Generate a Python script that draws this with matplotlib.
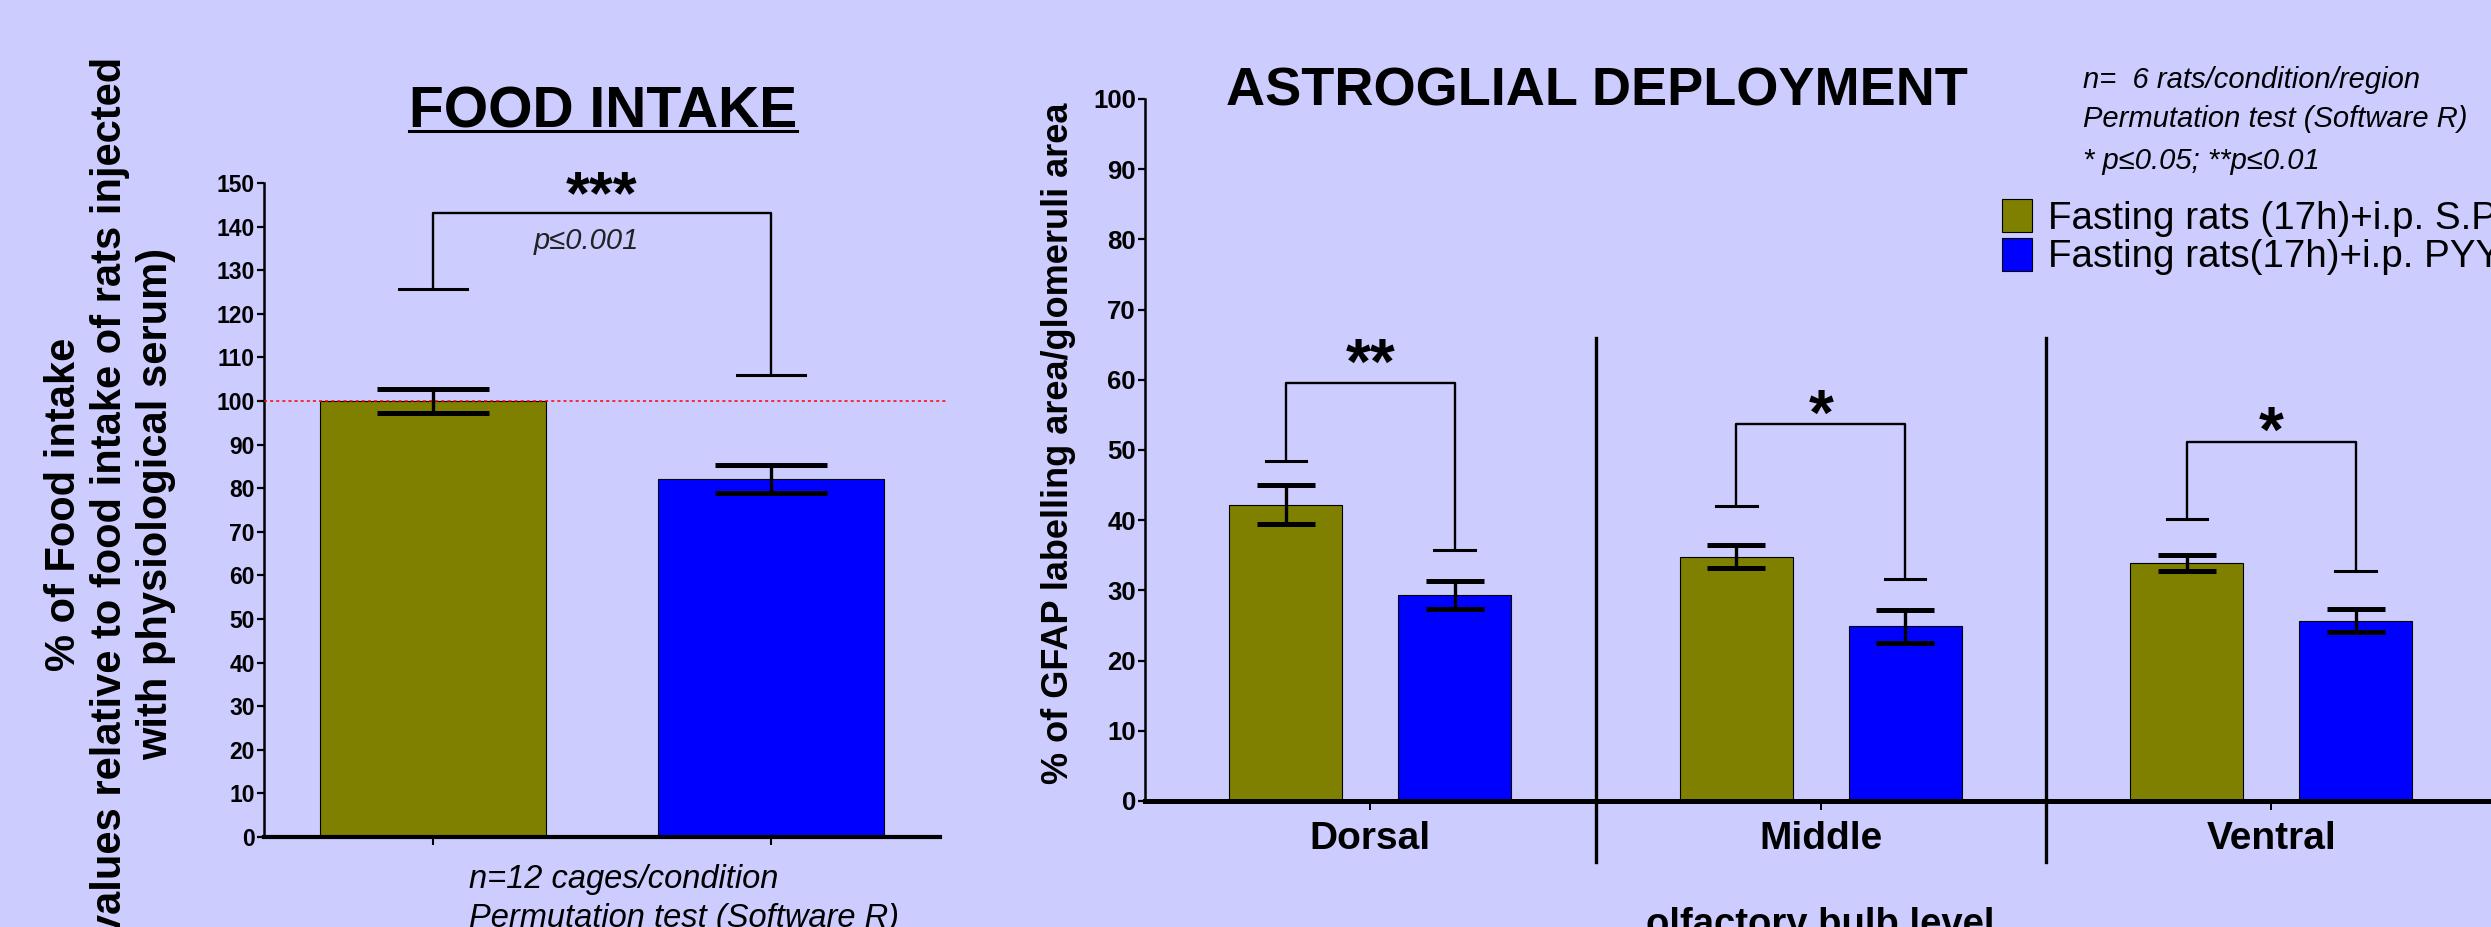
import matplotlib
matplotlib.use('Agg')
import matplotlib.pyplot as plt
from matplotlib.lines import Line2D
import numpy as np

plt.rcParams['font.family'] = ['Liberation Sans', 'DejaVu Sans']

BG = '#CCCCFF'
OLIVE = '#808000'
BLUE = '#0000FF'

# ---------------- data: food intake panel ----------------
conditions = ['Fasting rats (17h)+i.p. S.P.', 'Fasting rats(17h)+i.p. PYY']
fi_means = [100.0, 82.1]
fi_sem = [2.7, 3.3]
fi_yticks = list(range(0, 151, 10))
fi_ref_level = 100
fi_bracket_top = 143.2
fi_bracket_ends = [125.8, 106.0]
fi_stars = '***'
fi_star_y = 143.0
fi_pvalue = 'p≤0.001'
fi_pvalue_y = 134.9

# ---------------- data: astroglial panel ----------------
regions = ['Dorsal', 'Middle', 'Ventral']
sp_means = [42.2, 34.8, 33.9]
sp_sem = [2.8, 1.6, 1.15]
pyy_means = [29.3, 24.9, 25.7]
pyy_sem = [2.0, 2.35, 1.65]
ag_yticks = list(range(0, 101, 10))
ag_bracket_top = [59.5, 53.7, 51.1]
ag_bracket_left = [48.4, 42.0, 40.2]
ag_bracket_right = [35.8, 31.6, 32.8]
ag_stars = ['**', '*', '*']
ag_star_y = [59.4, 52.2, 49.8]

# ---------------- figure ----------------
W, H = 2491, 927
fig = plt.figure(figsize=(W / 100, H / 100), dpi=100, facecolor=BG)


def fx(px):
    return px / W


def fy(py):
    return 1 - py / H


# ================= FOOD INTAKE =================
ax1 = fig.add_axes([fx(264), fy(837), fx(940) - fx(264), fy(183) - fy(837)])
ax1.set_facecolor('none')
ax1.set_xlim(-0.5, 1.5)
ax1.set_ylim(0, 150)
for s in ['top', 'right']:
    ax1.spines[s].set_visible(False)
ax1.spines['left'].set_linewidth(1.8)
ax1.spines['bottom'].set_linewidth(3.0)
ax1.set_yticks(fi_yticks)
ax1.set_yticklabels([str(v) for v in fi_yticks], fontsize=16.5, fontweight='bold')
ax1.tick_params(axis='y', length=5, width=1.6, pad=1.5)
x1 = np.arange(len(fi_means))
ax1.set_xticks(x1)
ax1.set_xticklabels([])
ax1.tick_params(axis='x', length=6, width=1.5)

ax1.bar(x1, fi_means, width=0.67, color=[OLIVE, BLUE], edgecolor='black',
        linewidth=0.8, zorder=2)
ax1.errorbar(x1, fi_means, yerr=fi_sem, fmt='none', ecolor='black',
             elinewidth=2.4, capsize=40.5, capthick=3.6, zorder=4)
ax1.plot([-0.5, 1.52], [fi_ref_level, fi_ref_level], color='red',
         linestyle=(0, (2, 2)), linewidth=1.1, clip_on=False, zorder=3)

# bracket
ax1.plot([x1[0], x1[0], x1[1], x1[1]],
         [fi_bracket_ends[0], fi_bracket_top, fi_bracket_top, fi_bracket_ends[1]],
         color='black', linewidth=1.7, zorder=3)
for xi, ye in zip(x1, fi_bracket_ends):
    ax1.plot([xi - 0.102, xi + 0.102], [ye, ye], color='black', linewidth=2.2, zorder=3)
ax1.text(0.5, fi_star_y, fi_stars, ha='center', va='baseline', fontsize=44,
         fontweight='bold')
ax1.text(0.453, fi_pvalue_y, fi_pvalue, ha='center', va='baseline', fontsize=21,
         style='italic', color='#222222')

t_food = fig.text(fx(603), fy(127), 'FOOD INTAKE', ha='center', va='baseline',
                  fontsize=41, fontweight='bold')

fig.text(fx(110), fy(504),
         '% of Food intake\n(values relative to food intake of rats injected\nwith physiological serum)',
         rotation=90, ha='center', va='center', multialignment='center',
         fontsize=30, fontweight='bold', linespacing=1.2)

fig.text(fx(469), fy(888), 'n=12 cages/condition', ha='left', va='baseline',
         fontsize=23.5, style='italic')
fig.text(fx(469), fy(927), 'Permutation test (Software R)', ha='left', va='baseline',
         fontsize=23.5, style='italic')

# ================= ASTROGLIAL DEPLOYMENT =================
ax2 = fig.add_axes([fx(1145), fy(801), 3.1 * 450.5 / W, fy(99) - fy(801)])
ax2.set_facecolor('none')
ax2.set_xlim(-0.5, 2.6)
ax2.set_ylim(0, 100)
for s in ['top', 'right']:
    ax2.spines[s].set_visible(False)
ax2.spines['left'].set_linewidth(1.8)
ax2.spines['bottom'].set_linewidth(3.6)
ax2.set_yticks(ag_yticks)
ax2.set_yticklabels([str(v) for v in ag_yticks], fontsize=18.5, fontweight='bold')
ax2.tick_params(axis='y', length=5, width=1.6, pad=1.5)
x2 = np.arange(len(regions))
ax2.set_xticks(x2)
ax2.set_xticklabels(regions, fontsize=28, fontweight='bold')
ax2.tick_params(axis='x', length=6.5, width=1.4, pad=8)

off, bw = 0.1875, 0.25
b_sp = ax2.bar(x2 - off, sp_means, width=bw, color=OLIVE, edgecolor='black',
               linewidth=0.8, zorder=2, label=conditions[0])
b_pyy = ax2.bar(x2 + off, pyy_means, width=bw, color=BLUE, edgecolor='black',
                linewidth=0.8, zorder=2, label=conditions[1])
ax2.errorbar(x2 - off, sp_means, yerr=sp_sem, fmt='none', ecolor='black',
             elinewidth=2.4, capsize=21, capthick=3.6, zorder=4)
ax2.errorbar(x2 + off, pyy_means, yerr=pyy_sem, fmt='none', ecolor='black',
             elinewidth=2.4, capsize=21, capthick=3.6, zorder=4)

for i in range(len(regions)):
    xl, xr = x2[i] - off, x2[i] + off
    ax2.plot([xl, xl, xr, xr],
             [ag_bracket_left[i], ag_bracket_top[i], ag_bracket_top[i], ag_bracket_right[i]],
             color='black', linewidth=1.7, zorder=3)
    for xi, ye in [(xl, ag_bracket_left[i]), (xr, ag_bracket_right[i])]:
        ax2.plot([xi - 0.045, xi + 0.045], [ye, ye], color='black', linewidth=2.2, zorder=3)
    ax2.text(x2[i], ag_star_y[i], ag_stars[i], ha='center', va='baseline',
             fontsize=46, fontweight='bold')

for i in range(len(regions) - 1):
    b = x2[i] + 0.5
    ax2.plot([b, b], [-8.7, 66], color='black', linewidth=2.4, clip_on=False, zorder=3)

fig.text(fx(1597), fy(106), 'ASTROGLIAL DEPLOYMENT', ha='center', va='baseline',
         fontsize=39, fontweight='bold')
fig.text(fx(1059), fy(443), '% of GFAP labelling area/glomeruli area', rotation=90,
         ha='center', va='center', fontsize=26, fontweight='bold')
fig.text(fx(1820), fy(907), 'olfactory bulb level', ha='center', va='top',
         fontsize=27.5, fontweight='bold')

fig.text(fx(2083), fy(88), 'n=  6 rats/condition/region', ha='left', va='baseline',
         fontsize=21, style='italic')
fig.text(fx(2083), fy(127), 'Permutation test (Software R)', ha='left', va='baseline',
         fontsize=21, style='italic')
fig.text(fx(2083), fy(169), '* p≤0.05; **p≤0.01', ha='left', va='baseline',
         fontsize=21, style='italic')

fig.legend(handles=[b_sp, b_pyy], labels=conditions, loc='upper left',
           bbox_to_anchor=(fx(2002), fy(199)), frameon=False, fontsize=27.8,
           handlelength=0.77, handleheight=0.94, handletextpad=0.42,
           labelspacing=0.02, borderpad=0, borderaxespad=0)

# underline for FOOD INTAKE
fig.canvas.draw()
bb = t_food.get_window_extent()
fig.add_artist(Line2D([bb.x0 / W, bb.x1 / W], [fy(131), fy(131)],
                      transform=fig.transFigure, color='black', linewidth=2.2))

fig.savefig('out.png', dpi=100, facecolor=BG)
